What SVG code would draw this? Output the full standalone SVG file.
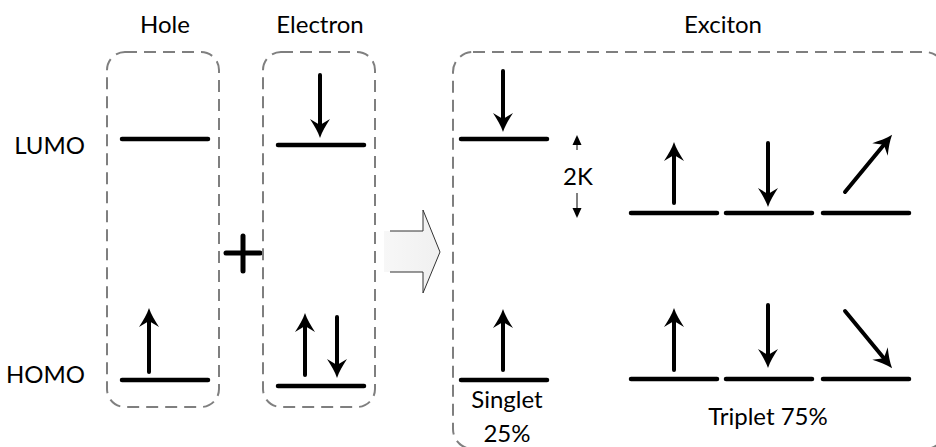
<svg xmlns="http://www.w3.org/2000/svg" width="936" height="447" viewBox="0 0 936 447">
<style>
.box{fill:none;stroke:#7f7f7f;stroke-width:2;stroke-dasharray:12 7}
.lvl{stroke:#000;stroke-width:4.5;stroke-linecap:round;fill:none}
.spin{stroke:#000;stroke-width:4;stroke-linecap:round;fill:none;marker-end:url(#head)}
.thin{stroke:#000;stroke-width:1;fill:none;marker-end:url(#small)}
text{font-family:Lato,"Liberation Sans",sans-serif;font-size:24px;fill:#000}
.c{text-anchor:middle}
.e{text-anchor:end}
</style>
<defs>
<marker id="head" viewBox="-20 -11 21 22" markerWidth="21" markerHeight="22" refX="-8" refY="0" orient="auto" markerUnits="userSpaceOnUse">
<path d="M0,0 C-6,2 -13,6 -19,10 L-13,0 L-19,-10 C-13,-6 -6,-2 0,0 Z" fill="#000"/>
</marker>
<marker id="small" viewBox="-10 -5 11 10" markerWidth="11" markerHeight="10" refX="-6" refY="0" orient="auto" markerUnits="userSpaceOnUse">
<path d="M0,0 L-10,4.5 L-10,-4.5 Z" fill="#000"/>
</marker>
<linearGradient id="bg" x1="0" x2="1" y1="0" y2="0">
<stop offset="0" stop-color="#f7f7f7"/>
<stop offset="1" stop-color="#f0f0f0"/>
</linearGradient>
</defs>

<text class="c" x="165" y="33">Hole</text>
<text class="c" x="320" y="33">Electron</text>
<text class="c" x="723" y="33">Exciton</text>
<text class="e" x="85" y="154">LUMO</text>
<text class="e" x="85" y="383">HOMO</text>

<g id="hole">
<rect class="box" x="107" y="52" width="112" height="355" rx="18"/>
<line class="lvl" x1="122" y1="139" x2="208" y2="139"/>
<line class="lvl" x1="122" y1="380" x2="208" y2="380"/>
<line class="spin" x1="149" y1="372" x2="149" y2="316"/>
</g>

<g id="plus">
<line class="lvl" x1="226" y1="253" x2="260" y2="253" style="stroke-width:5"/>
<line class="lvl" x1="243" y1="236" x2="243" y2="271" style="stroke-width:5"/>
</g>

<g id="electron">
<rect class="box" x="263" y="52" width="112" height="355" rx="18"/>
<line class="lvl" x1="278" y1="145" x2="364" y2="145"/>
<line class="spin" x1="320" y1="75" x2="320" y2="130"/>
<line class="lvl" x1="278" y1="386" x2="364" y2="386"/>
<line class="spin" x1="305" y1="375" x2="305" y2="321"/>
<line class="spin" x1="337" y1="317" x2="337" y2="370"/>
</g>

<g id="block-arrow">
<polygon points="384,231 423,231 423,210 440,252 423,293 423,272 384,272" fill="url(#bg)"/>
<polyline points="390,231 423,231 423,210 440,252 423,293 423,272 390,272" fill="none" stroke="#333" stroke-width="1"/>
</g>

<g id="exciton">
<rect class="box" x="453" y="52" width="492" height="397" rx="20"/>
</g>

<g id="singlet">
<line class="lvl" x1="461" y1="139" x2="547" y2="139"/>
<line class="spin" x1="503" y1="71" x2="503" y2="124"/>
<line class="lvl" x1="461" y1="380" x2="547" y2="380"/>
<line class="spin" x1="503" y1="370" x2="503" y2="317"/>
<text class="c" x="507" y="408">Singlet</text>
<text class="c" x="507" y="442">25%</text>
</g>

<g id="exchange">
<line class="thin" x1="577" y1="150" x2="577" y2="141"/>
<line class="thin" x1="577" y1="193" x2="577" y2="212"/>
<text x="563" y="185">2K</text>
</g>

<g id="triplet">
<line class="lvl" x1="631" y1="213" x2="717" y2="213"/>
<line class="lvl" x1="726" y1="213" x2="812" y2="213"/>
<line class="lvl" x1="823" y1="213" x2="909" y2="213"/>
<line class="spin" x1="674" y1="203" x2="674" y2="150"/>
<line class="spin" x1="768" y1="143" x2="768" y2="199"/>
<line class="spin" x1="845" y1="192" x2="887" y2="141"/>
<line class="lvl" x1="631" y1="379" x2="717" y2="379"/>
<line class="lvl" x1="726" y1="379" x2="812" y2="379"/>
<line class="lvl" x1="823" y1="379" x2="909" y2="379"/>
<line class="spin" x1="674" y1="370" x2="674" y2="316"/>
<line class="spin" x1="768" y1="305" x2="768" y2="360"/>
<line class="spin" x1="845" y1="311" x2="887" y2="362"/>
<text class="c" x="768" y="425">Triplet 75%</text>
</g>
</svg>
